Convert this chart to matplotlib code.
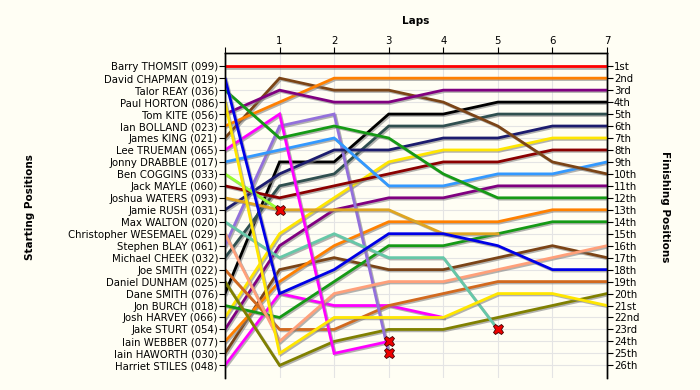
import matplotlib
matplotlib.use("Agg")
import matplotlib.pyplot as plt
import matplotlib.patheffects as pe

# -------------------------
# Data: drivers in starting order, colours and position after each lap
# -------------------------
drivers = [
    "Barry THOMSIT (099)", "David CHAPMAN (019)", "Talor REAY (036)",
    "Paul HORTON (086)", "Tom KITE (056)", "Ian BOLLAND (023)",
    "James KING (021)", "Lee TRUEMAN (065)", "Jonny DRABBLE (017)",
    "Ben COGGINS (033)", "Jack MAYLE (060)", "Joshua WATERS (093)",
    "Jamie RUSH (031)", "Max WALTON (020)", "Christopher WESEMAEL (029)",
    "Stephen BLAY (061)", "Michael CHEEK (032)", "Joe SMITH (022)",
    "Daniel DUNHAM (025)", "Dane SMITH (076)", "Jon BURCH (018)",
    "Josh HARVEY (066)", "Jake STURT (054)", "Iain WEBBER (077)",
    "Iain HAWORTH (030)", "Harriet STILES (048)",
]

colors = [
    "#ff0000", "#0000e6", "#159a15", "#ffe600", "#800080", "#ff8000",
    "#7b4416", "#ff00ff", "#3399ff", "#99ff33", "#8b0000", "#dfa520",
    "#1c1c6e", "#66c8a8", "#ffa07a", "#9370db", "#2f4f4f", "#d2691e",
    "#808000", "#000000", "#159a15", "#ffe600", "#800080", "#ff8000",
    "#7b4416", "#ff00ff",
]

# position at lap 0, 1, 2, ... (shorter lists = did not finish)
positions = [
    [1, 1, 1, 1, 1, 1, 1, 1],
    [2, 20, 18, 15, 15, 16, 18, 18],
    [3, 7, 6, 7, 10, 12, 12, 12],
    [4, 25, 22, 22, 22, 20, 20, 21],
    [5, 3, 4, 4, 3, 3, 3, 3],
    [6, 4, 2, 2, 2, 2, 2, 2],
    [7, 2, 3, 3, 4, 6, 9, 10],
    [8, 5, 25, 24],
    [9, 8, 7, 11, 11, 10, 10, 9],
    [10, 13],
    [11, 12, 11, 10, 9, 9, 8, 8],
    [12, 13, 13, 13, 15, 15],
    [13, 10, 8, 8, 7, 7, 6, 6],
    [14, 17, 15, 17, 17, 23],
    [15, 24, 20, 19, 19, 18, 17, 16],
    [16, 6, 5, 25],
    [17, 11, 10, 6, 6, 5, 5, 5],
    [18, 23, 23, 21, 20, 19, 19, 19],
    [19, 26, 24, 23, 23, 22, 21, 20],
    [20, 9, 9, 5, 5, 4, 4, 4],
    [21, 22, 19, 16, 16, 15, 14, 14],
    [22, 15, 12, 9, 8, 8, 7, 7],
    [23, 16, 13, 12, 12, 11, 11, 11],
    [24, 19, 16, 14, 14, 14, 13, 13],
    [25, 18, 17, 18, 18, 17, 16, 17],
    [26, 20, 21, 21, 22],
]

# drivers that retired (cross drawn at their last point)
retired = ["Lee TRUEMAN (065)", "Ben COGGINS (033)", "Max WALTON (020)",
           "Stephen BLAY (061)"]

laps = 7
finish_labels = ["1st", "2nd", "3rd"] + [f"{i}th" for i in range(4, 21)] + \
    ["21st", "22nd", "23rd", "24th", "25th", "26th"]

# -------------------------
# Plot
# -------------------------
bg = "#fffef4"
fig = plt.figure(figsize=(7, 3.9), dpi=100, facecolor=bg)
ax = fig.add_axes([0.3214, 0.031, 0.5457, 0.833], facecolor=bg)

shadow = [pe.SimpleLineShadow(offset=(1, -1), shadow_color="gray", alpha=0.6),
          pe.Normal()]

n = len(drivers)
for i in reversed(range(n)):
    pos = positions[i]
    ax.plot(range(len(pos)), pos, color=colors[i], lw=2.0,
            path_effects=shadow, solid_joinstyle="miter", zorder=3)
for i in range(n):
    if drivers[i] in retired:
        pos = positions[i]
        ax.plot(len(pos) - 1, pos[-1], marker="X", ms=7.5, color="#ee0000",
                mec="#400000", mew=0.6, zorder=5)

ax.set_xlim(0, laps)
ax.set_ylim(27.05, -0.1)

ax.set_xticks(range(laps + 1))
ax.set_xticklabels([""] + [str(i) for i in range(1, laps + 1)])
ax.xaxis.set_ticks_position("top")
ax.xaxis.set_label_position("top")
ax.set_xlabel("Laps", fontsize=7.5, fontweight="bold", labelpad=9)

ax.set_yticks(range(1, n + 1))
ax.set_yticklabels(drivers)
ax.tick_params(axis="both", labelsize=7.3, length=4, width=0.8, pad=1,
               colors="black")
ax.tick_params(axis="x", pad=1)

ax2 = ax.twinx()
ax2.set_ylim(ax.get_ylim())
ax2.set_yticks(range(1, n + 1))
ax2.set_yticklabels(finish_labels)
ax2.tick_params(axis="y", labelsize=7.3, length=4, width=0.8, pad=1)

for a in (ax, ax2):
    a.spines["bottom"].set_visible(False)
    for s in ("top", "left", "right"):
        a.spines[s].set_linewidth(1.0)

ax.grid(True, color="#e4e4e4", lw=0.8, zorder=0)
ax.set_axisbelow(True)

fig.text(0.043, 0.47, "Starting Positions", rotation=90, fontsize=7.5,
         fontweight="bold", ha="center", va="center")
fig.text(0.95, 0.47, "Finishing Positions", rotation=270, fontsize=7.5,
         fontweight="bold", ha="center", va="center")

fig.savefig("out.png", dpi=100, facecolor=bg)
